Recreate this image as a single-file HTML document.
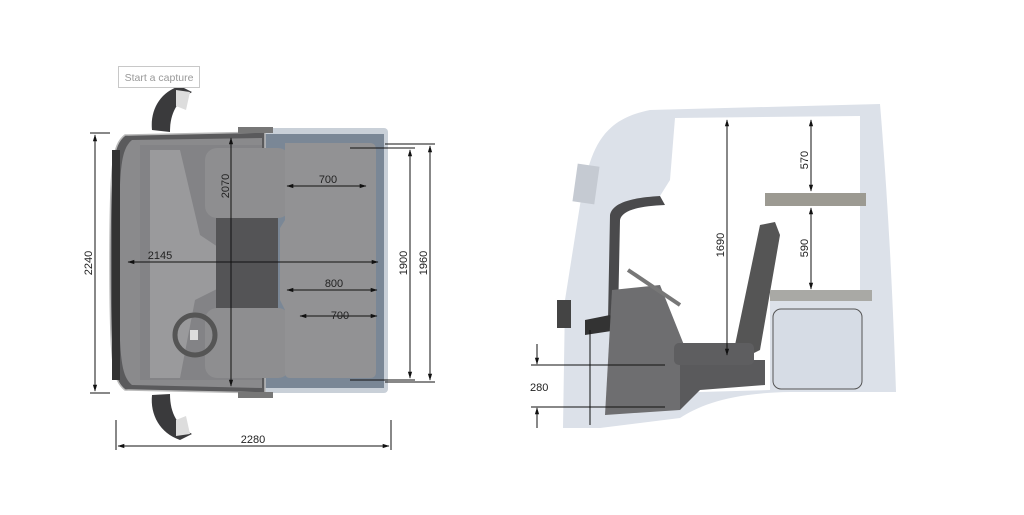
<!DOCTYPE html>
<html><head><meta charset="utf-8">
<style>
html,body{margin:0;padding:0;background:#fff;}
svg{display:block;}
text{font-family:"Liberation Sans",Arial,sans-serif;font-size:11px;fill:#222;}
</style></head>
<body>
<svg width="1024" height="515" viewBox="0 0 1024 515" xmlns="http://www.w3.org/2000/svg">
<defs>
<marker id="a" viewBox="0 0 10 10" refX="9" refY="5" markerWidth="7" markerHeight="7" orient="auto-start-reverse"><path d="M0,2 L10,5 L0,8 z" fill="#111"/></marker>
</defs>

<!-- ===== TOP VIEW ===== -->
<path d="M152,130 C150,110 160,92 180,86 L192,92 C178,100 170,112 170,132 Z" fill="#3a3a3c"/>
<path d="M176,90 L190,92 L186,110 L176,106 Z" fill="#ddd"/>
<path d="M152,395 C150,415 160,433 180,440 L192,434 C178,426 170,414 170,394 Z" fill="#3a3a3c"/>
<path d="M176,436 L190,434 L186,416 L176,420 Z" fill="#ddd"/>
<rect x="250" y="128" width="138" height="265" rx="4" fill="#c9d0d8"/>
<rect x="262" y="134" width="122" height="254" fill="#7a8796"/>
<path d="M125,135 L265,132 L265,393 L125,390 C112,380 110,360 110,262 C110,165 112,145 125,135 Z" fill="#5a5a5c" stroke="#bbb" stroke-width="1.5"/>
<path d="M132,140 L262,138 L262,388 L132,385 C120,375 119,355 119,262 C119,170 120,150 132,140 Z" fill="#8a8a8c"/>
<path d="M140,145 L262,145 L262,380 L140,380 Z" fill="#838386"/>
<path d="M150,150 L180,150 L200,235 L230,255 L225,285 L195,300 L180,378 L150,378 Z" fill="#9a9a9c"/>
<rect x="205" y="148" width="85" height="70" rx="12" fill="#8e8e90"/>
<rect x="205" y="308" width="85" height="70" rx="12" fill="#8e8e90"/>
<rect x="216" y="218" width="62" height="90" fill="#545456"/>
<circle cx="195" cy="335" r="20" fill="none" stroke="#555" stroke-width="5"/>
<rect x="190" y="330" width="8" height="10" fill="#ddd"/>
<path d="M285,143 L370,143 Q376,143 376,150 L376,372 Q376,378 370,378 L290,378 Q285,378 285,372 L285,310 L280,300 L280,228 L285,220 Z" fill="#929294"/>
<rect x="238" y="127" width="35" height="6" fill="#777"/>
<rect x="238" y="392" width="35" height="6" fill="#777"/>
<rect x="112" y="150" width="8" height="230" fill="#333"/>

<g stroke="#111" stroke-width="1" fill="none">
<line x1="90" y1="133" x2="110" y2="133"/><line x1="90" y1="393" x2="110" y2="393"/>
<line x1="95" y1="135" x2="95" y2="391" marker-start="url(#a)" marker-end="url(#a)"/>
<line x1="116" y1="420" x2="116" y2="450"/><line x1="391" y1="420" x2="391" y2="450"/>
<line x1="118" y1="446" x2="389" y2="446" marker-start="url(#a)" marker-end="url(#a)"/>
<line x1="128" y1="262" x2="378" y2="262" marker-start="url(#a)" marker-end="url(#a)"/>
<line x1="231" y1="138" x2="231" y2="386" marker-start="url(#a)" marker-end="url(#a)"/>
<line x1="287" y1="186" x2="366" y2="186" marker-start="url(#a)" marker-end="url(#a)"/>
<line x1="287" y1="290" x2="377" y2="290" marker-start="url(#a)" marker-end="url(#a)"/>
<line x1="300" y1="316" x2="377" y2="316" marker-start="url(#a)" marker-end="url(#a)"/>
<line x1="350" y1="148" x2="415" y2="148"/><line x1="350" y1="380" x2="415" y2="380"/>
<line x1="385" y1="144" x2="435" y2="144"/><line x1="385" y1="382" x2="435" y2="382"/>
<line x1="410" y1="150" x2="410" y2="378" marker-start="url(#a)" marker-end="url(#a)"/>
<line x1="430" y1="146" x2="430" y2="380" marker-start="url(#a)" marker-end="url(#a)"/>
</g>
<text x="89" y="263" transform="rotate(-90 89 263)" text-anchor="middle" dominant-baseline="middle">2240</text>
<text x="253" y="443" text-anchor="middle">2280</text>
<text x="160" y="259" text-anchor="middle">2145</text>
<text x="226" y="186" transform="rotate(-90 226 186)" text-anchor="middle" dominant-baseline="middle">2070</text>
<text x="328" y="183" text-anchor="middle">700</text>
<text x="334" y="287" text-anchor="middle">800</text>
<text x="340" y="319" text-anchor="middle">700</text>
<text x="404" y="263" transform="rotate(-90 404 263)" text-anchor="middle" dominant-baseline="middle">1900</text>
<text x="424" y="263" transform="rotate(-90 424 263)" text-anchor="middle" dominant-baseline="middle">1960</text>

<rect x="118.5" y="66.5" width="81" height="21" fill="#fff" stroke="#c8c8c8"/>
<text x="159" y="81" text-anchor="middle" style="font-size:10.5px;fill:#999">Start a capture</text>

<!-- ===== SIDE VIEW ===== -->
<path d="M563,428 L565,300 L580,205 C590,150 600,120 650,110 L880,104 C888,200 893,300 896,392 L790,392 C730,393 700,405 680,418 L600,428 Z" fill="#dce1e9"/>
<path d="M675,118 L860,116 L860,290 L770,290 L770,390 L700,392 L610,395 L612,215 C614,205 630,200 660,196 L670,180 Z" fill="#ffffff"/>
<path d="M610,215 C612,205 625,198 660,196 L665,205 C640,206 622,210 620,220 L618,318 L608,320 Z" fill="#4a4a4c"/>
<rect x="575" y="165" width="22" height="38" fill="#c5cad2" transform="rotate(8 586 184)"/>
<rect x="557" y="300" width="14" height="28" fill="#444"/>
<path d="M585,320 L610,315 L618,330 L585,335 Z" fill="#333"/>
<path d="M612,290 L660,285 L690,360 L680,410 L605,415 Z" fill="#6e6e70"/>
<path d="M680,360 L765,360 L765,385 L700,390 L680,410 Z" fill="#5a5a5c"/>
<line x1="628" y1="270" x2="680" y2="305" stroke="#777" stroke-width="4"/>
<path d="M760,225 L775,222 L780,235 L760,350 L740,360 L735,345 Z" fill="#555"/>
<rect x="674" y="343" width="80" height="22" rx="5" fill="#5e5e60"/>
<rect x="765" y="193" width="101" height="13" fill="#9c9a92"/>
<rect x="770" y="290" width="102" height="11" fill="#a9a9a5"/>
<rect x="773" y="309" width="89" height="80" rx="8" fill="#d6dce5" stroke="#555" stroke-width="1"/>

<g stroke="#111" stroke-width="1" fill="none">
<line x1="727" y1="120" x2="727" y2="355" marker-start="url(#a)" marker-end="url(#a)"/>
<line x1="811" y1="120" x2="811" y2="191" marker-start="url(#a)" marker-end="url(#a)"/>
<line x1="811" y1="208" x2="811" y2="289" marker-start="url(#a)" marker-end="url(#a)"/>
<line x1="531" y1="365" x2="665" y2="365"/>
<line x1="531" y1="407" x2="665" y2="407"/>
<line x1="590" y1="330" x2="590" y2="425"/>
<line x1="537" y1="344" x2="537" y2="364" marker-end="url(#a)"/>
<line x1="537" y1="428" x2="537" y2="408" marker-end="url(#a)"/>
</g>
<text x="721" y="245" transform="rotate(-90 721 245)" text-anchor="middle" dominant-baseline="middle">1690</text>
<text x="805" y="160" transform="rotate(-90 805 160)" text-anchor="middle" dominant-baseline="middle">570</text>
<text x="805" y="248" transform="rotate(-90 805 248)" text-anchor="middle" dominant-baseline="middle">590</text>
<text x="530" y="391">280</text>
</svg>
</body></html>
